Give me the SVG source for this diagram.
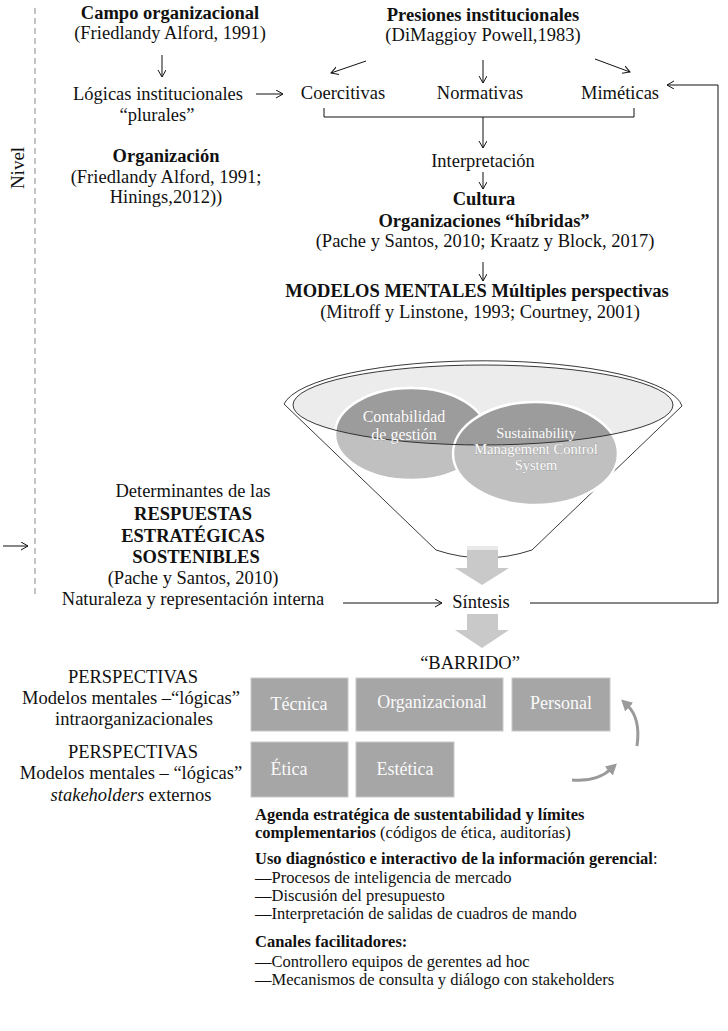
<svg xmlns="http://www.w3.org/2000/svg" width="728" height="1031" viewBox="0 0 728 1031">
<style>
.t{font-family:"Liberation Serif","Times New Roman",serif;font-size:18.5px;fill:#111;text-anchor:middle}
.b{font-weight:bold}
.s{font-size:16.5px;text-anchor:start}
.bx{fill:#a6a6a6;stroke:#c8c8c8;stroke-width:1}
.bt{fill:#fafafa;font-size:18px}
.ct{fill:#fdfdfd;font-size:16px;stroke:#888;stroke-width:0.35;paint-order:stroke}
.ct2{fill:#fdfdfd;font-size:14.5px;stroke:#888;stroke-width:0.35;paint-order:stroke}
.ln{stroke:#111;stroke-width:1;fill:none}
.ar{marker-end:url(#ah)}
.ga{fill:#c9c9c9}
.cv{stroke:#9a9a9a;stroke-width:3;fill:none;marker-end:url(#ch)}
</style>
<defs>
<marker id="ah" markerUnits="userSpaceOnUse" markerWidth="10" markerHeight="10" refX="7" refY="4" orient="auto">
<path d="M0,0 L7,4 L0,8" fill="none" stroke="#111" stroke-width="1"/>
</marker>
<marker id="ch" markerUnits="userSpaceOnUse" markerWidth="14" markerHeight="14" refX="3" refY="6" orient="auto">
<path d="M0,0 L11,6 L0,12 Z" fill="#9a9a9a"/>
</marker>
<clipPath id="inner"><ellipse cx="483" cy="405" rx="190" ry="40"/></clipPath>
</defs>

<g id="nivel">
<line x1="35" y1="8" x2="35" y2="598" stroke="#c4c4c4" stroke-width="2" stroke-dasharray="6 4"/>
<text class="t" x="0" y="0" transform="translate(24,168) rotate(-90)" style="font-size:19px">Nivel</text>
</g>

<g id="connectors">
<line class="ln ar" x1="162" y1="55" x2="162" y2="77"/>
<line class="ln ar" x1="256" y1="94" x2="283" y2="94"/>
<line class="ln ar" x1="366" y1="61" x2="331" y2="73"/>
<line class="ln ar" x1="483" y1="60" x2="483" y2="83"/>
<line class="ln ar" x1="595" y1="59" x2="630" y2="72"/>
<path class="ln" d="M324,108 V117 H634 V108"/>
<line class="ln ar" x1="483" y1="117" x2="483" y2="148"/>
<line class="ln ar" x1="483" y1="172" x2="483" y2="189"/>
<line class="ln ar" x1="483" y1="262" x2="483" y2="281"/>
<line class="ln ar" x1="343" y1="603" x2="442" y2="603"/>
<path class="ln ar" d="M530,603 H718 V85 H667"/>
<line class="ln ar" x1="3" y1="546" x2="28" y2="546"/>
<path class="cv" d="M637,746 Q641,718 627,705"/>
<path class="cv" d="M572,780 Q597,782 611,769"/>
</g>

<g id="campo">
<text class="t b" x="170" y="19">Campo organizacional</text>
<text class="t" x="170" y="39">(Friedlandy Alford, 1991)</text>
</g>
<g id="logicas">
<text class="t" x="158" y="100">Lógicas institucionales</text>
<text class="t" x="157" y="121">“plurales”</text>
</g>
<g id="organizacion">
<text class="t b" x="166" y="162">Organización</text>
<text class="t" x="166" y="183">(Friedlandy Alford, 1991;</text>
<text class="t" x="166" y="203">Hinings,2012))</text>
</g>
<g id="presiones">
<text class="t b" x="483" y="21">Presiones institucionales</text>
<text class="t" x="483" y="41">(DiMaggioy Powell,1983)</text>
</g>
<g id="coercitivas"><text class="t" x="343" y="99">Coercitivas</text></g>
<g id="normativas"><text class="t" x="480" y="99">Normativas</text></g>
<g id="mimeticas"><text class="t" x="620" y="99">Miméticas</text></g>
<g id="interpretacion"><text class="t" x="483" y="167">Interpretación</text></g>
<g id="cultura">
<text class="t b" x="484" y="205">Cultura</text>
<text class="t b" x="484" y="227">Organizaciones “híbridas”</text>
<text class="t" x="485" y="247">(Pache y Santos, 2010; Kraatz y Block, 2017)</text>
</g>
<g id="modelos">
<text class="t b" x="477" y="297">MODELOS MENTALES Múltiples perspectivas</text>
<text class="t" x="480" y="318">(Mitroff y Linstone, 1993; Courtney, 2001)</text>
</g>

<g id="funnel">
<rect class="ga" x="467" y="546" width="31" height="22"/>
<path d="M284,404 A200,49 0 0 1 682,406 L532,550 Q484,566 436,550 Z" fill="#fff" fill-opacity="0.6" stroke="#222" stroke-width="0.9"/>
<ellipse cx="483" cy="405" rx="190" ry="40" fill="#ececec"/>
<ellipse cx="411" cy="434" rx="76" ry="46" fill="#c0c0c0" stroke="#fff" stroke-width="2.5"/>
<ellipse cx="535.5" cy="453.5" rx="82.5" ry="51.5" fill="#c0c0c0" stroke="#fff" stroke-width="2.5"/>
<g clip-path="url(#inner)">
<ellipse cx="411" cy="434" rx="76" ry="46" fill="#9c9c9c" stroke="#fff" stroke-width="2.5"/>
<ellipse cx="535.5" cy="453.5" rx="82.5" ry="51.5" fill="#9c9c9c" stroke="#fff" stroke-width="2.5"/>
</g>
<ellipse cx="483" cy="405" rx="190" ry="40" fill="none" stroke="#222" stroke-width="0.9"/>
</g>
<g id="contabilidad">
<text class="t ct" x="404" y="422">Contabilidad</text>
<text class="t ct" x="404" y="440">de gestión</text>
</g>
<g id="smcs">
<text class="t ct2" x="536" y="438">Sustainability</text>
<text class="t ct2" x="536" y="454">Management Control</text>
<text class="t ct2" x="536" y="470">System</text>
</g>

<g id="arrow-sintesis">
<path class="ga" d="M467,550 H498 V568 H509 L482,585 L455,568 H467 Z"/>
</g>

<g id="determinantes">
<text class="t" x="193" y="497">Determinantes de las</text>
<text class="t b" x="193" y="520">RESPUESTAS</text>
<text class="t b" x="193" y="542">ESTRATÉGICAS</text>
<text class="t b" x="196" y="563">SOSTENIBLES</text>
<text class="t" x="193" y="584">(Pache y Santos, 2010)</text>
<text class="t" x="193" y="605">Naturaleza y representación interna</text>
</g>
<g id="sintesis"><text class="t" x="481" y="608">Síntesis</text></g>
<g id="arrow-barrido">
<path class="ga" d="M467,614 H498 V630 H509 L482,648 L455,630 H467 Z"/>
</g>
<g id="barrido"><text class="t" x="470" y="669">“BARRIDO”</text></g>

<g id="persp-intra">
<text class="t" x="133" y="683">PERSPECTIVAS</text>
<text class="t" x="131" y="704">Modelos mentales –“lógicas”</text>
<text class="t" x="134" y="725">intraorganizacionales</text>
</g>
<g id="persp-ext">
<text class="t" x="133" y="758">PERSPECTIVAS</text>
<text class="t" x="131" y="779">Modelos mentales – “lógicas”</text>
<text class="t" x="131" y="801"><tspan font-style="italic">stakeholders</tspan> externos</text>
</g>

<g id="tecnica"><rect class="bx" x="251" y="678" width="97" height="53"/><text class="t bt" x="299" y="710">Técnica</text></g>
<g id="organizacional"><rect class="bx" x="356" y="678" width="147" height="53"/><text class="t bt" x="432" y="708">Organizacional</text></g>
<g id="personal"><rect class="bx" x="512" y="678" width="98" height="53"/><text class="t bt" x="561" y="709">Personal</text></g>
<g id="etica"><rect class="bx" x="251" y="742" width="97" height="55"/><text class="t bt" x="289" y="775">Ética</text></g>
<g id="estetica"><rect class="bx" x="356" y="742" width="98" height="55"/><text class="t bt" x="405" y="775">Estética</text></g>

<g id="agenda">
<text class="t s b" x="255" y="820">Agenda estratégica de sustentabilidad y límites</text>
<text class="t s" x="255" y="838"><tspan font-weight="bold">complementarios</tspan> (códigos de ética, auditorías)</text>
</g>
<g id="uso">
<text class="t s" x="255" y="864"><tspan font-weight="bold">Uso diagnóstico e interactivo de la información gerencial</tspan>:</text>
<text class="t s" x="255" y="883">—Procesos de inteligencia de mercado</text>
<text class="t s" x="255" y="901">—Discusión del presupuesto</text>
<text class="t s" x="255" y="919">—Interpretación de salidas de cuadros de mando</text>
</g>
<g id="canales">
<text class="t s b" x="255" y="947">Canales facilitadores:</text>
<text class="t s" x="255" y="967">—Controllero equipos de gerentes ad hoc</text>
<text class="t s" x="255" y="985">—Mecanismos de consulta y diálogo con stakeholders</text>
</g>
</svg>
